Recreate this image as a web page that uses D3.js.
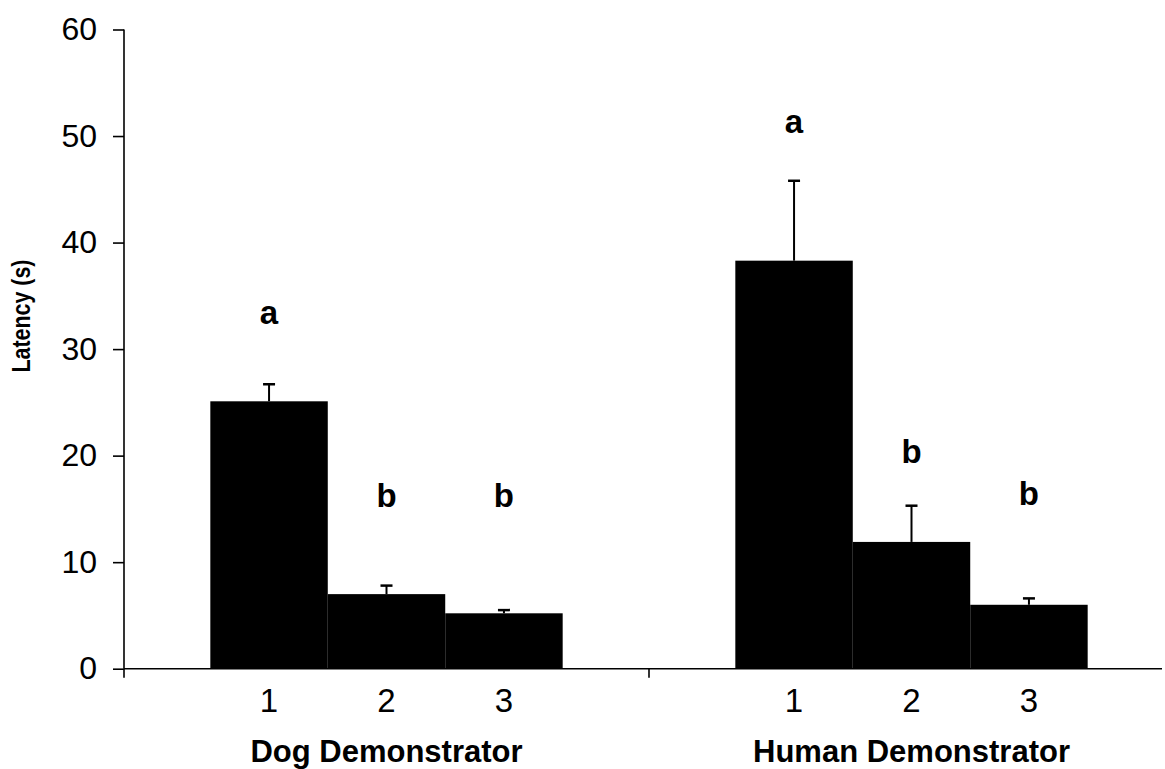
<!DOCTYPE html>
<html>
<head>
<meta charset="utf-8">
<script src="https://cdn.jsdelivr.net/npm/d3@7"></script>
<style>
  html, body { margin: 0; padding: 0; background: #fff; }
  svg { display: block; font-family: "Liberation Sans", Arial, Helvetica, sans-serif; }
</style>
</head>
<body>
<svg id="chart" width="1165" height="769"></svg>
<script>
// ---- data ----
const groups = ["Dog Demonstrator", "Human Demonstrator"];
const conditions = ["1", "2", "3"];
const dogMeans = [25.1, 7.0, 5.2];
const dogErrors = [1.6, 0.8, 0.3];
const humanMeans = [38.3, 11.9, 6.0];
const humanErrors = [7.5, 3.4, 0.6];
const dogLetters = ["a", "b", "b"];
const humanLetters = ["a", "b", "b"];
const dogLetterLevels = [32.4, 15.2, 15.2];
const humanLetterLevels = [50.3, 19.3, 15.4];
const yTicks = [0, 10, 20, 30, 40, 50, 60];
const yLabel = "Latency (s)";

const series = [
  { group: groups[0], means: dogMeans, errors: dogErrors, letters: dogLetters, levels: dogLetterLevels },
  { group: groups[1], means: humanMeans, errors: humanErrors, letters: humanLetters, levels: humanLetterLevels }
];
const rows = [];
series.forEach(s => conditions.forEach((c, i) => rows.push({
  group: s.group, cond: c, mean: s.means[i], err: s.errors[i], letter: s.letters[i], level: s.levels[i]
})));

// ---- layout ----
const svg = d3.select("#chart");
const x0 = 124, xEnd = 1174, yBottom = 668.7, yTop = 29.5;

const xGroup = d3.scaleBand().domain(groups).range([x0, xEnd]).padding(0);
const xCond = d3.scaleBand().domain(conditions).range([0, xGroup.bandwidth()])
  .paddingInner(0).paddingOuter(0.735);
const y = d3.scaleLinear().domain([0, 60]).range([yBottom, yTop]);

const cx = d => xGroup(d.group) + xCond(d.cond) + xCond.bandwidth() / 2;

// bars
svg.append("g").selectAll("rect").data(rows).join("rect")
  .attr("x", d => xGroup(d.group) + xCond(d.cond))
  .attr("y", d => y(d.mean))
  .attr("width", xCond.bandwidth())
  .attr("height", d => y(0) - y(d.mean))
  .attr("fill", "#000");

// error bars (upper only)
const eb = svg.append("g").attr("stroke", "#000");
eb.selectAll("line.v").data(rows).join("line").attr("class", "v")
  .attr("x1", cx).attr("x2", cx)
  .attr("y1", d => y(d.mean)).attr("y2", d => y(d.mean + d.err))
  .attr("stroke-width", 2);
eb.selectAll("line.c").data(rows).join("line").attr("class", "c")
  .attr("x1", d => cx(d) - 6).attr("x2", d => cx(d) + 6)
  .attr("y1", d => y(d.mean + d.err)).attr("y2", d => y(d.mean + d.err))
  .attr("stroke-width", 2.5);

// significance letters
svg.append("g").selectAll("text").data(rows).join("text")
  .attr("x", cx).attr("y", d => y(d.level))
  .attr("text-anchor", "middle")
  .attr("font-weight", "bold").attr("font-size", 33)
  .text(d => d.letter);

// y axis
const yAxis = d3.axisLeft(y).tickValues(yTicks).tickSize(11).tickPadding(16);
const gy = svg.append("g").attr("transform", `translate(${x0},0)`).call(yAxis);
gy.select(".domain").attr("d", `M0,${yTop}H0V${yBottom}`).attr("stroke-width", 1.6);
gy.selectAll(".tick line").attr("stroke-width", 1.6);
gy.selectAll(".tick text").attr("font-size", 32).attr("fill", "#000")
  .attr("font-family", "'Liberation Sans', Arial, sans-serif");

// x axis: baseline with group boundary ticks
const gx = svg.append("g").attr("transform", `translate(0,${yBottom})`);
gx.append("line").attr("x1", x0).attr("x2", 1162).attr("y1", 0).attr("y2", 0)
  .attr("stroke", "#000").attr("stroke-width", 1.6);
gx.selectAll("line.t").data(groups).join("line").attr("class", "t")
  .attr("x1", d => xGroup(d)).attr("x2", d => xGroup(d))
  .attr("y1", 0).attr("y2", 9).attr("stroke", "#000").attr("stroke-width", 1.6);

// condition labels
svg.append("g").selectAll("text").data(rows).join("text")
  .attr("x", cx).attr("y", 712)
  .attr("text-anchor", "middle").attr("font-size", 33)
  .text(d => d.cond);

// group labels (centred on the bars of each group)
svg.append("g").selectAll("text").data(groups).join("text")
  .attr("x", g => xGroup(g) + xCond(conditions[1]) + xCond.bandwidth() / 2)
  .attr("y", 762)
  .attr("text-anchor", "middle").attr("font-weight", "bold").attr("font-size", 31)
  .text(g => g);

// y label
svg.append("text")
  .attr("transform", "translate(30,316) rotate(-90)")
  .attr("text-anchor", "middle").attr("font-weight", "bold").attr("font-size", 25)
  .attr("textLength", 113).attr("lengthAdjust", "spacingAndGlyphs")
  .text(yLabel);
</script>
</body>
</html>
